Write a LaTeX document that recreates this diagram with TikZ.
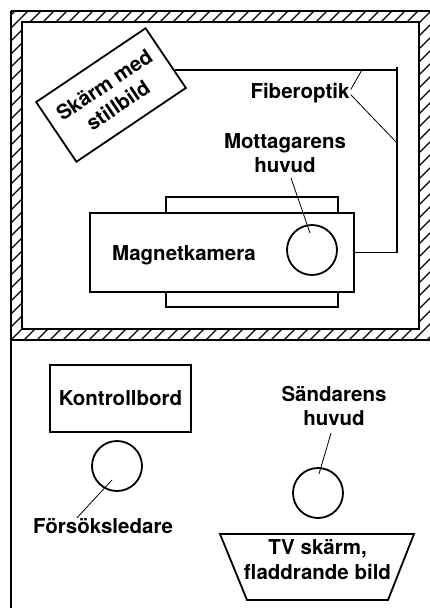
\documentclass[tikz,border=0pt]{standalone}
\usepackage{fontspec}
\setmainfont{TeX Gyre Heros}
\usetikzlibrary{calc}
\begin{document}
\begin{tikzpicture}[x=1pt,y=-1pt,
  shapeline/.style={line width=1.8pt},
  lbl/.style={font=\fontsize{20.5}{24.5}\selectfont\bfseries, inner sep=0pt, align=center},
  leader/.style={line width=0.8pt},
  hatch/.style={line width=1.1pt},
  wall/.style={line width=1.8pt},
  head/.style={draw, circle, shapeline, minimum size=50pt, inner sep=0pt},
]
\useasboundingbox (0,0) rectangle (430,608);
% hatching of the walls
\begin{scope}
\clip (11,11) rectangle (430,22) (11,329) rectangle (430,340)
      (11,22) rectangle (22,329) (419,22) rectangle (430,329);
\foreach \c in {0,13,...,1105} \draw[hatch] (\c,0) -- (\c-620,620);
\end{scope}
\draw[wall] (11,11) -- (430,11);
\draw[wall] (22,22) rectangle (419,329);
\draw[wall] (11,340) -- (430,340);
\draw[wall] (11,11) -- (11,608);

% screen with still image
\node[draw, shapeline, lbl, minimum width=132pt, minimum height=72pt, rotate=34] (scr) at (111,95) {Skärm med\\stillbild};

% camera
\node[draw, shapeline, minimum width=172pt, minimum height=16pt, inner sep=0pt] (ptop) at (252,205) {};
\node[draw, shapeline, minimum width=172pt, minimum height=15pt, inner sep=0pt] (pbot) at (252,299.5) {};
\node[draw, shapeline, fill=white, minimum width=264pt, minimum height=79pt, inner sep=0pt] (cam) at (222,252.5) {};
\node[lbl, anchor=base] (camtxt) at (184,260) {Magnetkamera};
\node[head] (mhead) at (312,250) {};

% fibre optics
\coordinate (f1) at ($(scr.east)!0.4!(scr.south east)$);
\coordinate (fc) at (397,67);
\draw[shapeline] (f1) -- (f1 -| fc);
\draw[shapeline] (fc) -- (fc |- cam.east) -- (cam.east);
\node[lbl, anchor=base] (fib) at (300,98) {Fiberoptik};
\draw[leader] ($(fib.east)+(1,-3)$) -- ($(f1 -| fc)+(-35,0)$);
\draw[leader] ($(fib.east)+(1,2)$) -- ($(fc)+(0,76)$);

% receiver head
\node[lbl] (mot) at (285,153) {Mottagarens\\huvud};
\draw[leader] ($(mot.south)+(6,5)$) -- ($(mhead.center)+(-2,-17)$);

% control desk and experimenter
\node[draw, shapeline, lbl, minimum width=141pt, minimum height=67pt] (kb) at (120.5,398.5) {Kontrollbord};
\node[head] (fhead) at (117,466) {};
\node[lbl, anchor=base] (fl) at (103,533) {Försöksledare};
\draw[leader] ($(fhead.center)+(-5,14)$) -- ($(fl.north)+(-26,0)$);

% sender head
\node[lbl] (sh) at (334,406) {Sändarens\\huvud};
\node[head] (shead) at (318,493) {};
\draw[leader] ($(sh.south)+(-3,7)$) -- ($(shead.center)+(1,-19)$);

% TV screen
\node[lbl] (tv) at (317.5,559.5) {TV skärm,\\fladdrande bild};
\coordinate (t1) at (220,534);
\coordinate (t2) at (414,534);
\coordinate (t3) at (388,600);
\coordinate (t4) at (247,600);
\draw[shapeline, line join=miter] (t1) -- (t2) -- (t3) -- (t4) -- cycle;
\end{tikzpicture}
\end{document}
